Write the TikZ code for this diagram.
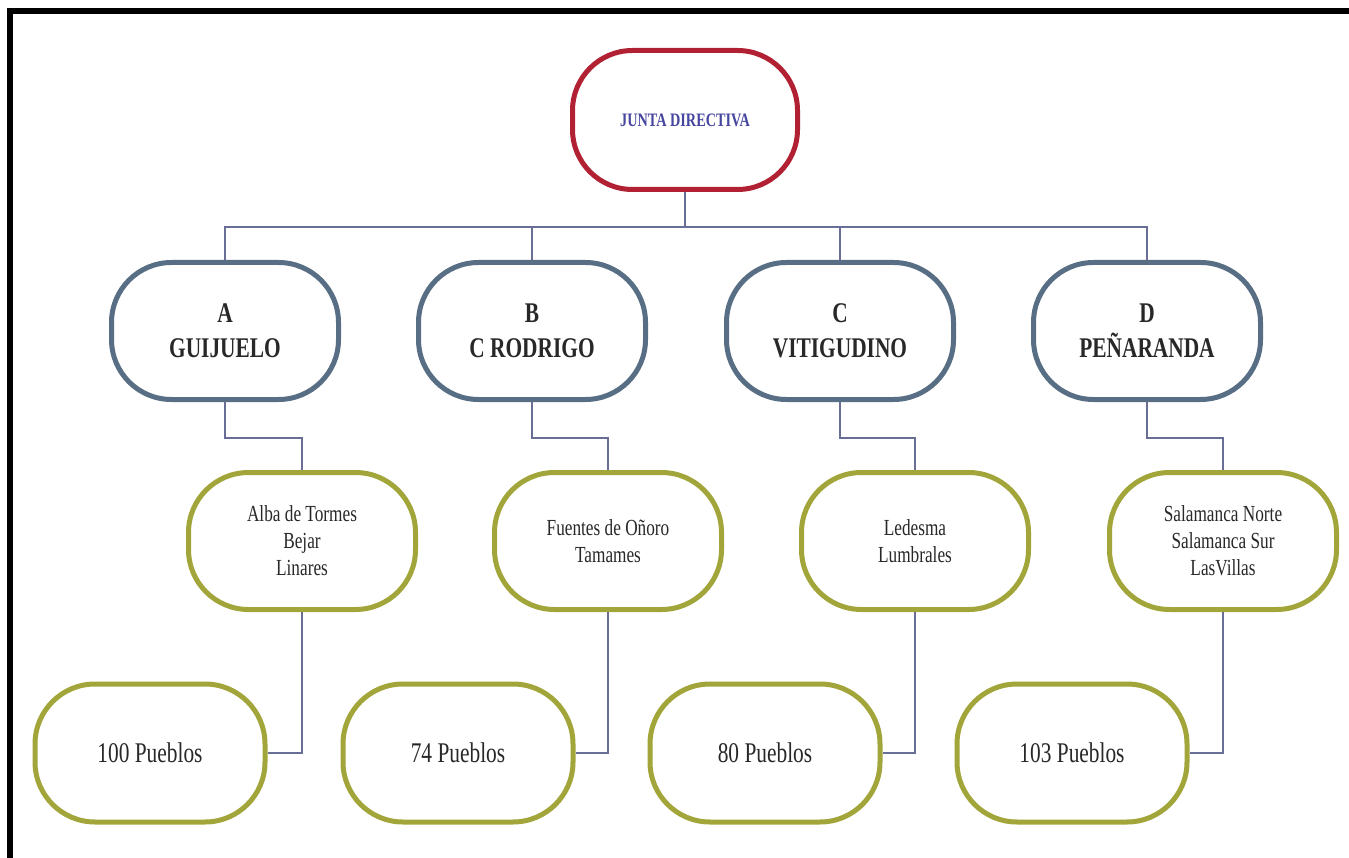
\documentclass[tikz,border=0pt]{standalone}
\usepackage{fontspec}
\setmainfont{Liberation Serif}
\newfontfamily\cond[FakeStretch=0.75]{Liberation Serif}
\definecolor{topred}{RGB}{178,32,52}
\definecolor{steel}{RGB}{88,110,132}
\definecolor{olive}{RGB}{162,166,58}
\definecolor{conncol}{RGB}{105,110,150}
\definecolor{navytxt}{RGB}{70,70,160}
\definecolor{txt}{RGB}{40,40,40}
\tikzset{
  boxbase/.style={rectangle, rounded corners=60pt, line width=5pt, fill=white,
    align=center, text=txt, inner sep=0pt},
  topbox/.style={boxbase, draw=topred, minimum width=225pt, minimum height=139pt,
    text=navytxt, font=\cond\bfseries\fontsize{19}{22}\selectfont},
  lvltwo/.style={boxbase, draw=steel, minimum width=227pt, minimum height=137pt,
    font=\cond\bfseries\fontsize{28.5}{35}\selectfont},
  lvlthree/.style={boxbase, draw=olive, minimum width=227pt, minimum height=137pt,
    font=\cond\fontsize{23}{27}\selectfont},
  lvlfour/.style={boxbase, draw=olive, minimum width=230pt, minimum height=138pt,
    font=\cond\fontsize{28.5}{32}\selectfont},
  conn/.style={draw=conncol, line width=1.8pt},
  framepart/.style={draw=black, line width=6pt}
}
\begin{document}
\begin{tikzpicture}[x=1pt,y=-1pt]
\useasboundingbox (0,0) rectangle (1349,858);
\fill[white] (0,0) rectangle (1349,858);
% frame
\coordinate (fbl) at (10,858);
\coordinate (ftl) at (10,11);
\coordinate (ftr) at (1349,11);
\draw[framepart] (fbl) -- (ftl) -- (ftr);
% nodes
\node[topbox] (top) at (685,120) {JUNTA DIRECTIVA};
\node[lvltwo] (a2) at (225,331) {A\\GUIJUELO};
\node[lvltwo] (b2) at (532,331) {B\\C RODRIGO};
\node[lvltwo] (c2) at (840,331) {C\\VITIGUDINO};
\node[lvltwo] (d2) at (1147,331) {D\\PEÑARANDA};
\node[lvlthree] (a3) at (302,541) {Alba de Tormes\\Bejar\\Linares};
\node[lvlthree] (b3) at (608,541) {Fuentes de Oñoro\\Tamames};
\node[lvlthree] (c3) at (915,541) {Ledesma\\Lumbrales};
\node[lvlthree] (d3) at (1223,541) {Salamanca Norte\\Salamanca Sur\\LasVillas};
\node[lvlfour] (a4) at (150,753) {100 Pueblos};
\node[lvlfour] (b4) at (458,753) {74 Pueblos};
\node[lvlfour] (c4) at (765,753) {80 Pueblos};
\node[lvlfour] (d4) at (1072,753) {103 Pueblos};
% connectors
\coordinate (bus) at (685,227);
\draw[conn] (top.south) -- (bus);
\draw[conn] (a2.north) |- (bus);
\draw[conn] (b2.north) |- (bus);
\draw[conn] (c2.north) |- (bus);
\draw[conn] (d2.north) |- (bus);
\draw[conn] (a2.south) -- ++(0,36) -| (a3.north);
\draw[conn] (b2.south) -- ++(0,36) -| (b3.north);
\draw[conn] (c2.south) -- ++(0,36) -| (c3.north);
\draw[conn] (d2.south) -- ++(0,36) -| (d3.north);
\draw[conn] (a3.south) |- (a4.east);
\draw[conn] (b3.south) |- (b4.east);
\draw[conn] (c3.south) |- (c4.east);
\draw[conn] (d3.south) |- (d4.east);
\end{tikzpicture}
\end{document}
